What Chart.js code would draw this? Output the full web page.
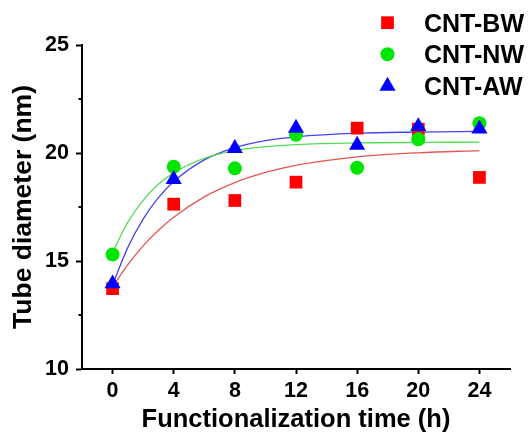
<!DOCTYPE html>
<html><head><meta charset="utf-8">
<script src="https://cdn.jsdelivr.net/npm/chart.js@4"></script>
<style>html,body{margin:0;padding:0;background:#fff;} #wrap{width:532px;height:434px;position:relative;}</style>
</head><body><div id="wrap"><canvas id="c"></canvas></div>
<script>
// Measured data
const times = [0, 4, 8, 12, 16, 20, 24];
const seriesNames = ['CNT-BW', 'CNT-NW', 'CNT-AW'];
const bwValues = [13.72, 17.63, 17.80, 18.65, 21.15, 21.10, 18.87];
const nwValues = [15.30, 19.36, 19.29, 20.84, 19.32, 20.64, 21.38];
const awValues = [13.95, 18.78, 20.22, 21.15, 20.37, 21.23, 21.12];
// Fitted curves
const fitTimes = [0, 1, 2, 3, 4, 6, 8, 10, 12, 16, 20, 24];
const bwFit = [13.80, 14.83, 15.70, 16.42, 17.03, 17.97, 18.63, 19.10, 19.43, 19.82, 20.01, 20.11];
const nwFit = [15.40, 16.80, 17.81, 18.55, 19.08, 19.75, 20.11, 20.29, 20.39, 20.47, 20.49, 20.50];
const awFit = [13.90, 15.63, 16.94, 17.93, 18.68, 19.68, 20.25, 20.57, 20.75, 20.92, 20.97, 21.00];
// Tick labels
const xTicks = [0, 4, 8, 12, 16, 20, 24];
const yMajorTicks = [10, 15, 20, 25];
const yMinorTicks = [12.5, 17.5, 22.5];

const FONT = '"Liberation Sans", Arial, sans-serif';
const INK = '#000000';
const pts = (xs, ys) => xs.map((x, i) => ({x: x, y: ys[i]}));

const markerStyles = [
  {pointStyle: 'rect', pointRadius: 9, color: '#ff0000', order: 3},
  {pointStyle: 'circle', pointRadius: 7, color: '#00e600', order: 2},
  {pointStyle: 'triangle', pointRadius: 9.3, color: '#0000ff', order: 1}
];
const seriesValues = [bwValues, nwValues, awValues];
const fitValues = [bwFit, nwFit, awFit];
const fitColors = ['#e85555', '#55dd55', '#4444ee'];

const datasets = [];
seriesNames.forEach((name, i) => {
  const m = markerStyles[i];
  datasets.push({
    type: 'scatter', label: name, data: pts(times, seriesValues[i]),
    pointStyle: m.pointStyle, pointRadius: m.pointRadius, pointHoverRadius: m.pointRadius,
    backgroundColor: m.color, borderColor: m.color, pointBorderWidth: 0, order: m.order,
    isMarker: true
  });
});
seriesNames.forEach((name, i) => {
  datasets.push({
    type: 'line', label: name + ' fit', data: pts(fitTimes, fitValues[i]),
    borderColor: fitColors[i], borderWidth: 1.3, pointRadius: 0, fill: false,
    cubicInterpolationMode: 'monotone', order: 10 + i
  });
});

const minorTicksPlugin = {
  id: 'minorTicks',
  afterDraw(chart) {
    const y = chart.scales.y, ctx = chart.ctx;
    const x0 = chart.chartArea.left;
    ctx.save();
    ctx.strokeStyle = INK; ctx.lineWidth = 2;
    yMinorTicks.forEach(v => {
      const py = y.getPixelForValue(v);
      ctx.beginPath(); ctx.moveTo(x0 - 3.5, py); ctx.lineTo(x0, py); ctx.stroke();
    });
    ctx.restore();
  }
};

const legendPlugin = {
  id: 'customLegend',
  afterDraw(chart) {
    const ctx = chart.ctx;
    const rows = [22.7, 54.3, 86];
    ctx.save();
    chart.data.datasets.filter(d => d.isMarker).forEach((ds, i) => {
      ctx.fillStyle = ds.backgroundColor;
      ctx.strokeStyle = ds.backgroundColor;
      Chart.helpers.drawPoint(ctx, {pointStyle: ds.pointStyle, radius: ds.pointRadius, rotation: 0, borderWidth: 0}, 387.5, rows[i]);
      ctx.fillStyle = INK;
      ctx.font = 'bold 25px ' + FONT;
      ctx.textAlign = 'left'; ctx.textBaseline = 'alphabetic';
      ctx.fillText(ds.label, 424, rows[i] + 9);
    });
    ctx.restore();
  }
};

new Chart(document.getElementById('c'), {
  data: {datasets: datasets},
  options: {
    responsive: true, maintainAspectRatio: false, animation: false,
    layout: {padding: {top: 45, right: 22, left: 0, bottom: 0}},
    plugins: {legend: {display: false}, tooltip: {enabled: false}},
    scales: {
      x: {
        type: 'linear', position: 'bottom', min: -2, max: 26,
        afterBuildTicks: s => { s.ticks = xTicks.map(v => ({value: v})); },
        afterFit: s => { s.height = 65; },
        ticks: {font: {family: FONT, size: 21.5, weight: 'bold'}, color: INK, padding: 4, autoSkip: false, maxRotation: 0},
        grid: {drawOnChartArea: false, drawTicks: true, tickLength: 5, tickWidth: 2, tickColor: INK},
        border: {color: INK, width: 2},
        title: {display: true, text: 'Functionalization time (h)', color: INK,
                font: {family: FONT, size: 25.5, weight: 'bold', lineHeight: 1.1}, padding: {top: 0, bottom: 0}}
      },
      y: {
        type: 'linear', position: 'left', min: 10, max: 25,
        afterBuildTicks: s => { s.ticks = yMajorTicks.map(v => ({value: v})); },
        afterFit: s => { s.width = 82; },
        ticks: {font: {family: FONT, size: 21.5, weight: 'bold'}, color: INK, padding: 7},
        grid: {drawOnChartArea: false, drawTicks: true, tickLength: 6, tickWidth: 2, tickColor: INK},
        border: {color: INK, width: 2},
        title: {display: true, text: 'Tube diameter (nm)', color: INK,
                font: {family: FONT, size: 26.5, weight: 'bold', lineHeight: 1.1}, padding: {top: 9, bottom: 0}}
      }
    }
  },
  plugins: [minorTicksPlugin, legendPlugin]
});
</script>
</body></html>
